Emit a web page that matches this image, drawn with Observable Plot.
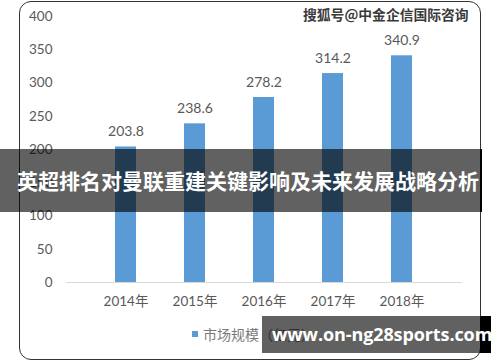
<!DOCTYPE html>
<html>
<head>
<meta charset="utf-8">
<script src="https://cdn.jsdelivr.net/npm/d3@7"></script>
<script src="https://cdn.jsdelivr.net/npm/@observablehq/plot@0.6"></script>
<style>
  html, body { margin: 0; padding: 0; background: #fff; }
  #wrap { position: relative; width: 500px; height: 362px; overflow: hidden; font-family: Lato, "Noto Sans CJK SC", sans-serif; }
  #chart svg { display: block; }
  .ov { position: absolute; box-sizing: border-box; }
  #frame { left: 19px; top: 1px; width: 462px; height: 359px; border: 1.5px solid #333; border-radius: 12px; }
  #wm { left: 303px; top: 5px; font-family: "Noto Sans CJK SC", sans-serif; font-size: 13.8px; font-weight: bold; color: #3a3a3a; white-space: nowrap; line-height: 18px; }
  #band { left: 0; top: 149px; width: 480px; height: 63px; background: rgba(0,0,0,0.62); }
  #bandEdge { left: 480px; top: 149px; width: 2px; height: 63px; background: #000; }
  #bandText { left: 0; top: 149px; width: 496px; height: 63px; line-height: 63px; text-align: center; color: #fff; font-family: "Noto Sans CJK SC", sans-serif; font-weight: bold; font-size: 21px; white-space: nowrap; }
  #legSq { left: 192px; top: 331px; width: 6px; height: 6px; background: #5b9bd5; }
  #legText { left: 203px; top: 325px; font-family: "Noto Sans CJK SC", sans-serif; font-size: 14px; color: #7a7a7a; white-space: nowrap; line-height: 18px; }
  #box { left: 262px; top: 316px; width: 218px; height: 37px; background: rgba(0,0,0,0.62); }
  #boxEdge { left: 480px; top: 316px; width: 11px; height: 37px; background: #000; }
  #boxText { left: 272px; top: 316px; height: 37px; line-height: 37px; color: #fff; font-family: "Open Sans", sans-serif; font-weight: bold; font-size: 18px; white-space: nowrap; letter-spacing: -0.1px; }
</style>
</head>
<body>
<div id="wrap">
  <div id="chart"></div>
  <div class="ov" id="frame"></div>
  <div class="ov" id="wm">搜狐号@中金企信国际咨询</div>
  <div class="ov" id="legSq"></div>
  <div class="ov" id="legText">市场规模（亿元）</div>
  <div class="ov" id="band"></div>
  <div class="ov" id="bandEdge"></div>
  <div class="ov" id="bandText">英超排名对曼联重建关键影响及未来发展战略分析</div>
  <div class="ov" id="box"></div>
  <div class="ov" id="boxEdge"></div>
  <div class="ov" id="boxText">www.on-ng28sports.com</div>
</div>
<script>
const years = ["2014年", "2015年", "2016年", "2017年", "2018年"];
const values = [203.8, 238.6, 278.2, 314.2, 340.9];
const yTicks = [0, 50, 100, 150, 200, 250, 300, 350, 400];

const data = years.map((y, i) => ({year: y, value: values[i]}));

const chart = Plot.plot({
  width: 500,
  height: 362,
  marginTop: 16,
  marginBottom: 80,
  marginLeft: 66,
  marginRight: 38,
  style: {fontFamily: "Lato, sans-serif", fontSize: "13.5px", color: "#595959", background: "transparent"},
  x: {domain: years, padding: 0.69, label: null},
  y: {domain: [0, 400], ticks: yTicks, label: null},
  marks: [
    Plot.axisY({ticks: yTicks, tickSize: 0, tickPadding: 14, fontSize: 13.5, fill: "#595959", label: null}),
    Plot.axisX({tickSize: 0, tickPadding: 14, fontSize: 13.5, fill: "#595959", label: null, fontFamily: "Lato, 'Noto Sans CJK SC', sans-serif"}),
    Plot.barY(data, {x: "year", y: "value", fill: "#5b9bd5"}),
    Plot.ruleY([0], {stroke: "#d9d9d9", strokeWidth: 1.2}),
    Plot.text(data, {x: "year", y: "value", text: d => d.value.toFixed(1), dy: -15, fontSize: 14, fill: "#595959"})
  ]
});
document.getElementById("chart").appendChild(chart);
</script>
</body>
</html>
